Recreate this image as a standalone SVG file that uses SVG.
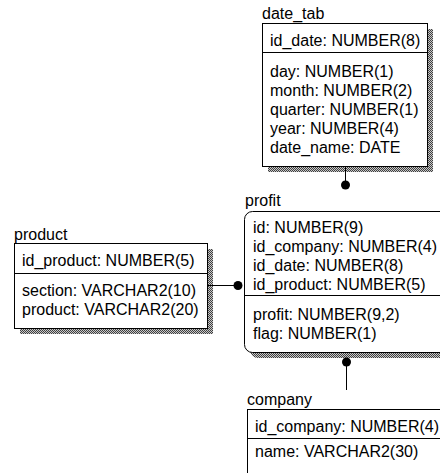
<svg xmlns="http://www.w3.org/2000/svg" width="440" height="473" viewBox="0 0 440 473">
<defs>
<pattern id="dither" width="2" height="2" patternUnits="userSpaceOnUse">
<rect width="2" height="2" fill="#c8c8c8"/>
<rect x="0" y="0" width="1" height="1" fill="#404040"/>
<rect x="1" y="1" width="1" height="1" fill="#404040"/>
</pattern>
</defs>
<style>
text{font-family:"Liberation Sans",Arial,sans-serif;font-size:16px;fill:#000}
.box{fill:#fff;stroke:#000;stroke-width:1}
.shadow{fill:url(#dither);stroke:none}
.sep{stroke:#000;stroke-width:1}
.conn{stroke:#000;stroke-width:1;fill:none}
.dot{fill:#000}
</style>
<rect width="440" height="473" fill="#fff"/>
<g id="date_tab">
<text x="262" y="19">date_tab</text>
<rect class="shadow" x="268" y="29" width="165" height="143"/>
<rect class="box" x="262.5" y="23.5" width="165" height="143"/>
<line class="sep" x1="262.5" y1="52.5" x2="427.5" y2="52.5"/>
<text x="270" y="46">id_date: NUMBER(8)</text>
<text x="270" y="77">day: NUMBER(1)</text>
<text x="270" y="96">month: NUMBER(2)</text>
<text x="270" y="115">quarter: NUMBER(1)</text>
<text x="270" y="134">year: NUMBER(4)</text>
<text x="270" y="153">date_name: DATE</text>
</g>
<g id="product">
<text x="14" y="240">product</text>
<rect class="shadow" x="20" y="249" width="193" height="85"/>
<rect class="box" x="14.5" y="243.5" width="193" height="85"/>
<line class="sep" x1="14.5" y1="273.5" x2="207.5" y2="273.5"/>
<text x="22" y="266">id_product: NUMBER(5)</text>
<text x="22" y="296">section: VARCHAR2(10)</text>
<text x="22" y="315">product: VARCHAR2(20)</text>
</g>
<g id="profit">
<text x="245" y="206">profit</text>
<rect class="shadow" x="250" y="217" width="230" height="141" rx="8"/>
<rect class="box" x="244.5" y="211.5" width="230" height="141" rx="8"/>
<line class="sep" x1="244.5" y1="295.5" x2="440" y2="295.5"/>
<text x="253" y="233">id: NUMBER(9)</text>
<text x="253" y="252">id_company: NUMBER(4)</text>
<text x="253" y="271">id_date: NUMBER(8)</text>
<text x="253" y="290">id_product: NUMBER(5)</text>
<text x="253" y="320">profit: NUMBER(9,2)</text>
<text x="253" y="339">flag: NUMBER(1)</text>
</g>
<g id="company">
<text x="247" y="405">company</text>
<rect class="box" x="247.5" y="409.5" width="230" height="80"/>
<line class="sep" x1="247.5" y1="438.5" x2="440" y2="438.5"/>
<text x="255" y="432">id_company: NUMBER(4)</text>
<text x="255" y="457">name: VARCHAR2(30)</text>
</g>
<g id="connectors">
<line class="conn" x1="345.5" y1="167" x2="345.5" y2="185"/>
<circle class="dot" cx="345.5" cy="185" r="4.5"/>
<line class="conn" x1="208" y1="285.5" x2="238" y2="285.5"/>
<circle class="dot" cx="238" cy="285.5" r="4.5"/>
<line class="conn" x1="346.5" y1="358" x2="346.5" y2="390"/>
<circle class="dot" cx="346.5" cy="362" r="4.5"/>
</g>
</svg>
